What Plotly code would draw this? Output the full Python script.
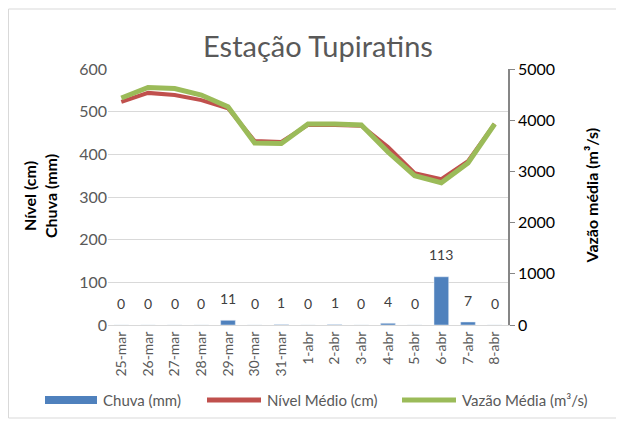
import plotly.graph_objects as go

# ── data ─────────────────────────────────────────────
dias = ["25-mar", "26-mar", "27-mar", "28-mar", "29-mar", "30-mar", "31-mar",
        "1-abr", "2-abr", "3-abr", "4-abr", "5-abr", "6-abr", "7-abr", "8-abr"]
chuva = [0, 0, 0, 0, 11, 0, 1, 0, 1, 0, 4, 0, 113, 7, 0]
nivel = [523, 544, 539, 527, 508, 431, 429, 469, 469, 467, 417, 356, 342, 384, 471]
vazao = [4434, 4639, 4619, 4492, 4264, 3555, 3545, 3926, 3926, 3906, 3379, 2916, 2779, 3164, 3926]

BLUE = "#4f81bd"
RED = "#c0504d"
GREEN = "#9bbb59"
GREY = "#595959"
FONT = "Lato"


def px_x(sx):
    # screen x -> paper x (plot area spans 108..508)
    return (sx - 108) / 400


def px_y(sy):
    # screen y -> paper y (plot area spans 69..325)
    return (325 - sy) / 256


fig = go.Figure()
fig.add_trace(go.Bar(x=dias, y=chuva, name="Chuva (mm)", marker_color=BLUE,
                     width=0.55, showlegend=False))
fig.add_trace(go.Scatter(x=dias, y=nivel, name="Nível Médio (cm)", mode="lines",
                         line=dict(color=RED, width=4), showlegend=False))
fig.add_trace(go.Scatter(x=dias, y=vazao, name="Vazão Média (m³/s)", mode="lines",
                         line=dict(color=GREEN, width=5), yaxis="y2", showlegend=False))

# data labels for the rain bars
annots = []
for d, v in zip(dias, chuva):
    annots.append(dict(x=d, y=v, text=str(v), showarrow=False, yshift=22,
                       font=dict(size=14, color="#404040")))

# axis titles
annots.append(dict(xref="paper", yref="paper", x=px_x(18), y=px_y(196), textangle=-90,
                   text="<b>Nível (cm)<br>Chuva (mm)</b>", showarrow=False,
                   font=dict(size=16, color="black")))
annots.append(dict(xref="paper", yref="paper", x=px_x(602), y=px_y(196), textangle=-90,
                   text="<b>Vazão média (m³/s)</b>", showarrow=False,
                   font=dict(size=16, color="black")))

# chart border + hand-drawn legend
shapes = [
    dict(type="rect", xref="paper", yref="paper", x0=px_x(8.5), x1=px_x(617),
         y0=px_y(9), y1=px_y(418), line=dict(color="#d9d9d9", width=1)),
]
leg = [(45, 97, BLUE, "Chuva (mm)", 8),
       (207, 261, RED, "Nível Médio (cm)", 5),
       (402, 456, GREEN, "Vazão Média (m³/s)", 5)]
for x0, x1, col, label, w in leg:
    shapes.append(dict(type="line", xref="paper", yref="paper", x0=px_x(x0), x1=px_x(x1),
                       y0=px_y(400), y1=px_y(400), line=dict(color=col, width=w)))
    annots.append(dict(xref="paper", yref="paper", x=px_x(x1 + 4), y=px_y(400),
                       xanchor="left", yanchor="middle", text=label, showarrow=False,
                       font=dict(size=15, color=GREY)))

fig.update_layout(
    width=616, height=415,
    margin=dict(l=100, r=116, t=61, b=98),
    paper_bgcolor="white", plot_bgcolor="white",
    font=dict(family=FONT, color=GREY),
    title=dict(text="Estação Tupiratins", xref="paper", x=px_x(318), xanchor="center",
               yref="container", y=1 - 39 / 415, yanchor="middle",
               font=dict(size=29, color=GREY)),
    xaxis=dict(type="category", tickangle=-90, tickfont=dict(size=14, color=GREY),
               showline=True, linecolor="#d9d9d9", ticks="", showgrid=False),
    yaxis=dict(range=[0, 600], dtick=100, gridcolor="#d9d9d9", zeroline=False,
               tickfont=dict(size=16, color=GREY), ticks="", showline=False),
    yaxis2=dict(range=[0, 5000], dtick=1000, overlaying="y", side="right",
                showgrid=False, zeroline=False, showline=True, linecolor="#868686",
                linewidth=1.5, ticks="outside", ticklen=5, tickcolor="#868686",
                tickfont=dict(size=16, color="black")),
    annotations=annots,
    shapes=shapes,
    showlegend=False,
)

fig.write_html("out.html")
